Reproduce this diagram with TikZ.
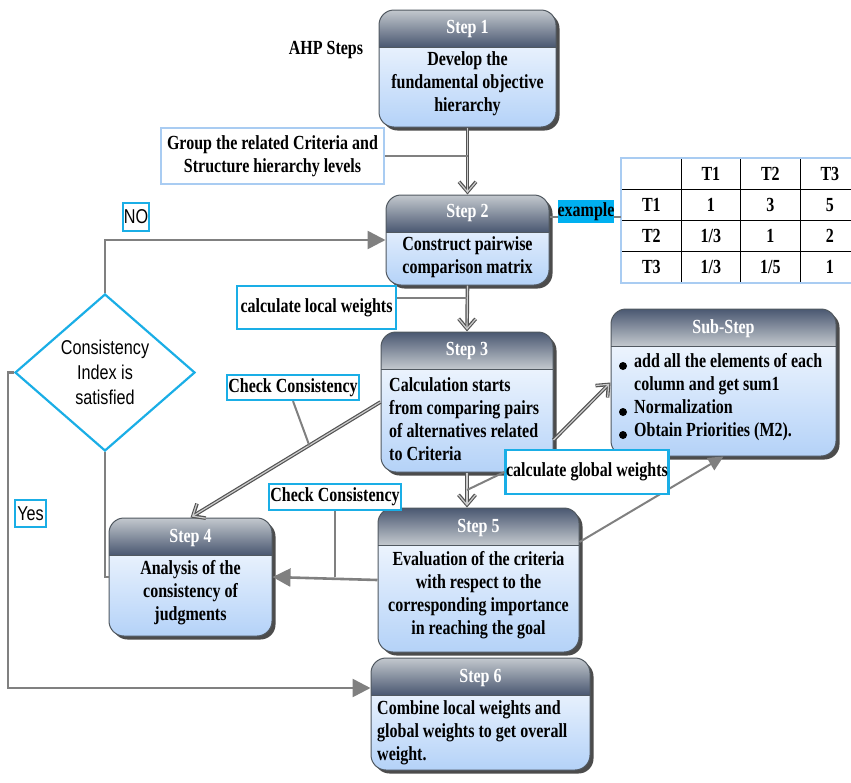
\documentclass[tikz,border=0pt]{standalone}
\usepackage{fontspec}
\setmainfont{Liberation Serif}[FakeStretch=0.8]
\newfontfamily\sansfam{Liberation Sans}[FakeStretch=0.81]
\usetikzlibrary{arrows.meta,shapes.geometric,shadows,matrix,calc}
\definecolor{linegray}{HTML}{808080}
\definecolor{cyanb}{HTML}{1AAEE6}
\definecolor{paleb}{HTML}{A9CCF2}
\definecolor{exfill}{HTML}{00B0F0}
\definecolor{hdlight}{HTML}{C3C8CE}
\definecolor{hddark}{HTML}{4A5871}
\definecolor{bodyblue}{HTML}{B4D2F8}
\definecolor{boxedge}{HTML}{505860}
\newcommand\bodyfont{\fontsize{20}{23}\selectfont\bfseries}
\newcommand\sansbody{\sansfam\fontsize{20}{25}\selectfont}
\begin{document}
\begin{tikzpicture}[x=1pt,y=-1pt,
  stepbox/.style n args={4}{draw=boxedge, line width=1pt, rounded corners=15pt,
    minimum width=#1, minimum height=#2, inner sep=0pt,
    drop shadow={shadow xshift=3.5pt, shadow yshift=-3.5pt, opacity=0.7, fill=black},
    path picture={
      \shade[sharp corners, top color=white, bottom color=bodyblue]
        ([yshift=-37pt]path picture bounding box.north west) rectangle (path picture bounding box.south east);
      \shade[sharp corners, top color=#3, bottom color=#4]
        (path picture bounding box.north west) rectangle ([yshift=-37pt]path picture bounding box.north east);
      \draw[sharp corners, boxedge, line width=0.8pt]
        ([yshift=-37pt]path picture bounding box.north west) -- ([yshift=-37pt]path picture bounding box.north east);}},
  titletxt/.style={font=\bodyfont, text=white, inner sep=0pt},
  bodytxt/.style={font=\bodyfont, align=center, inner sep=0pt},
  lefttxt/.style={font=\bodyfont, align=left, inner sep=0pt, anchor=west},
  bultxt/.style={font=\bodyfont, inner sep=0pt, anchor=base west},
  cbox/.style={draw=cyanb, line width=2.2pt, fill=white, inner sep=0pt, font=\bodyfont, align=center},
  sbox/.style={draw=cyanb, line width=2.2pt, fill=white, inner sep=0pt, font=\sansbody},
  conn/.style={draw=linegray, line width=2.6pt},
  thinconn/.style={draw=linegray, line width=2pt},
  farrow/.style={draw=linegray, line width=2.6pt, -{Triangle[length=18pt,width=18pt]}},
  thinarrow/.style={draw=linegray, line width=2pt, -{Triangle[length=15pt,width=14pt]}},
  varrow/.style={draw=gray!40, line width=1.2pt, shorten >=1.7pt, -{Straight Barb[length=10pt,width=17pt]},
    preaction={draw=gray!65!black, line width=3.6pt, shorten >=0pt, -{Straight Barb[length=10pt,width=17pt]}}}
]
\useasboundingbox (0,0) rectangle (851,782);

% step boxes
\node[stepbox={177pt}{117pt}{hdlight}{hddark}] (s1) at (467.5,68.5) {};
\node[stepbox={163pt}{90pt}{hdlight}{hddark}] (s2) at (467.5,240) {};
\node[stepbox={172pt}{140pt}{hddark}{hdlight}] (s3) at (467,402) {};
\node[stepbox={225pt}{147pt}{hddark}{hdlight}] (sub) at (723.5,382.5) {};
\node[stepbox={163pt}{118pt}{hdlight}{hddark}] (s4) at (190.5,577) {};
\node[stepbox={201pt}{144pt}{hddark}{hdlight}] (s5) at (478.5,580) {};
\node[stepbox={219pt}{112pt}{hdlight}{hddark}] (s6) at (480.5,714) {};

% titles
\node[titletxt] (t1) at ([yshift=-20pt]s1.north) {Step 1};
\node[titletxt] (t2) at ([yshift=-19pt]s2.north) {Step 2};
\node[titletxt] (t3) at ([yshift=-20pt]s3.north) {Step 3};
\node[titletxt] (tsub) at ([yshift=-20pt]sub.north) {Sub-Step};
\node[titletxt] (t4) at ([yshift=-20pt]s4.north) {Step 4};
\node[titletxt] (t5) at ([yshift=-20pt]s5.north) {Step 5};
\node[titletxt] (t6) at ([yshift=-20pt]s6.north) {Step 6};

% body texts
\node[bodytxt] (b1) at (467.5,84) {Develop the\\fundamental objective\\hierarchy};
\node[bodytxt] (b2) at (467.5,257) {Construct pairwise\\comparison matrix};
\node[lefttxt] (b3) at (389,419) {Calculation starts\\from comparing pairs\\of alternatives related\\to Criteria};
\node[bultxt] (bs1) at (634,367) {add all the elements of each};
\node[bultxt] (bs2) at (634,390) {column and get sum1};
\node[bultxt] (bs3) at (634,413) {Normalization};
\node[bultxt] (bs4) at (634,436) {Obtain Priorities (M2).};
\fill[black] (623,366) circle (4pt);
\fill[black] (623,412) circle (4pt);
\fill[black] (623,435) circle (4pt);
\node[bodytxt] (b4) at (190.5,593) {Analysis of the\\consistency of\\judgments};
\node[bodytxt] (b5) at (478.5,595) {Evaluation of the criteria\\with respect to the\\corresponding importance\\in reaching the goal};
\node[lefttxt] (b6) at (377,733) {Combine local weights and\\global weights to get overall\\weight.};

\node[font=\bodyfont, inner sep=0pt] (ahp) at (326,50) {AHP Steps};

% diamond
\node[diamond, draw=cyanb, line width=2.2pt, fill=white, minimum width=180pt, minimum height=157pt,
  inner sep=0pt, aspect=1.15, align=center, font=\sansbody] (dia) at (105,372.5) {Consistency\\Index is\\satisfied};

% table
\matrix (tbl) [matrix of nodes, nodes in empty cells, anchor=north west, inner sep=0pt,
  column sep=-0.9pt, row sep=-0.9pt,
  nodes={draw=black, line width=0.9pt, minimum width=59.5pt, minimum height=31pt, inner sep=0pt,
         font=\bodyfont, anchor=center}] at (621,158) {
     & T1  & T2  & T3 \\
  T1 & 1   & 3   & 5  \\
  T2 & 1/3 & 1   & 2  \\
  T3 & 1/3 & 1/5 & 1  \\
};
\draw[paleb, line width=2pt] (tbl.north east) -- (tbl.north west) -- (tbl.south west) -- (tbl.south east);

% main connectors
\draw[varrow] (s1.south) -- (s2.north);
\draw[varrow] (s2.south) -- (s3.north);
\draw[varrow] (s3.south) -- (s3.south |- s5.north);
\draw[varrow] (s3.west) -- (s4.north);
\draw[varrow] ([yshift=-38pt]s3.east) -- (sub.west);
\draw[thinarrow] ([yshift=38pt]s5.east) -- (sub.south);
\draw[farrow] (s5.west) -- (s4.east);
\draw[farrow] (dia.north) |- (s2.west);
\draw[conn] (dia.south) |- (s4.west);
\draw[farrow] (dia.west) -- ++(-6,0) |- ([yshift=26pt]s6.west);
\draw[thinconn] ([yshift=23pt]s2.east) -- ([yshift=23pt]s2.east -| tbl.west);

% label boxes
\node[cbox, draw=paleb, minimum width=223pt, minimum height=56pt] (grp) at (272.5,156)
  {Group the related Criteria and\\Structure hierarchy levels};
\node[cbox, minimum width=159pt, minimum height=43pt] (lw) at (316.5,307.5) {calculate local weights};
\node[cbox, minimum width=132pt, minimum height=25pt] (cc1) at (293,387.5) {Check Consistency};
\node[cbox, minimum width=132pt, minimum height=26pt] (cc2) at (335,497) {Check Consistency};
\node[cbox, minimum width=163pt, minimum height=44pt] (gw) at (587,472) {calculate global weights};
\node[fill=exfill, inner sep=0pt, minimum width=56pt, minimum height=23pt, font=\bodyfont] (ex) at (586,211.5) {example};
\node[sbox, minimum width=26pt, minimum height=28pt] (no) at (136,217) {NO};
\node[sbox, minimum width=31pt, minimum height=27pt] (yes) at (30.5,513.5) {Yes};

% label joins
\coordinate (j3) at (467,298);
\coordinate (j2) at (467,490);
\path (s3.west) -- (s4.north) coordinate[pos=0.375] (j1);
\draw[conn] (grp.east) -- (grp.east -| s1.south);
\draw[conn] (j3 -| lw.east) -- (j3);
\draw[thinconn] (cc1.south) -- (j1);
\draw[conn] (cc2.south) -- (cc2.south |- s4.east);
\draw[thinconn] (gw.west) -- (j2);
\end{tikzpicture}
\end{document}
